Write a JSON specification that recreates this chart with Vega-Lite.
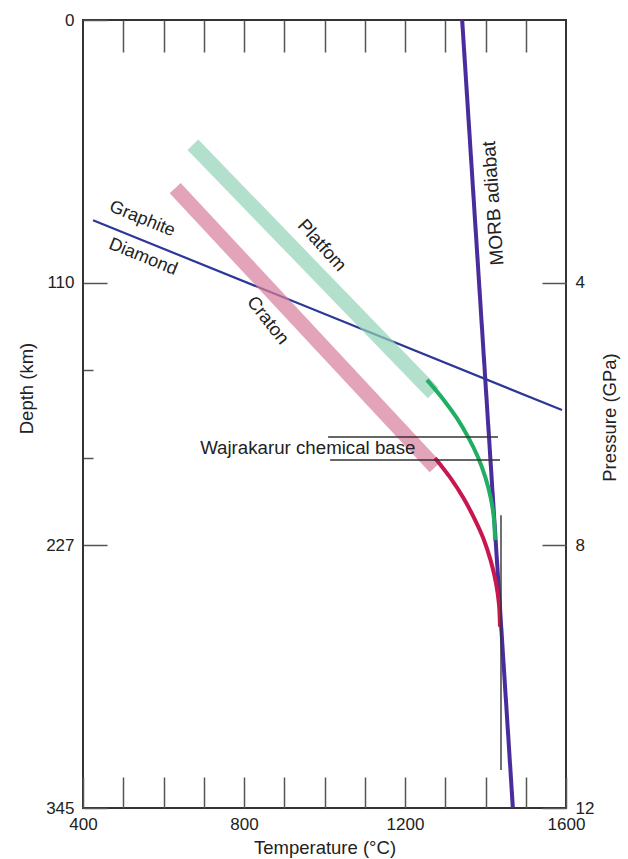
{
  "$schema": "https://vega.github.io/schema/vega-lite/v6.json",
  "width": 483,
  "height": 788,
  "autosize": {"type": "none"},
  "padding": {"left": 83, "top": 20, "right": 62, "bottom": 51},
  "config": {
    "view": {"stroke": "#333333", "strokeWidth": 2},
    "font": "Liberation Sans",
    "axis": {
      "labelFont": "Liberation Sans", "titleFont": "Liberation Sans",
      "labelFontSize": 17, "titleFontSize": 18.5, "titleFontWeight": "normal",
      "labelColor": "#222222", "titleColor": "#222222",
      "grid": false, "domain": false, "tickColor": "#555555", "tickWidth": 1.5,
      "labelOverlap": false, "labelBound": false, "labelFlush": false
    }
  },
  "datasets": {
    "curves": [
      {"series": "Graphite-Diamond", "i": 1, "T": 425, "P": 3.05},
      {"series": "Graphite-Diamond", "i": 2, "T": 1590, "P": 5.94},
      {"series": "Platform band", "i": 1, "T": 673, "P": 1.90},
      {"series": "Platform band", "i": 2, "T": 1270, "P": 5.68},
      {"series": "Craton band", "i": 1, "T": 629, "P": 2.56},
      {"series": "Craton band", "i": 2, "T": 1275, "P": 6.81},
      {"series": "Platform geotherm", "i": 1, "T": 1254.7, "P": 5.48},
      {"series": "Platform geotherm", "i": 2, "T": 1294.3, "P": 5.77},
      {"series": "Platform geotherm", "i": 3, "T": 1328.6, "P": 6.06},
      {"series": "Platform geotherm", "i": 4, "T": 1357.6, "P": 6.36},
      {"series": "Platform geotherm", "i": 5, "T": 1381.4, "P": 6.66},
      {"series": "Platform geotherm", "i": 6, "T": 1399.9, "P": 6.97},
      {"series": "Platform geotherm", "i": 7, "T": 1413.1, "P": 7.28},
      {"series": "Platform geotherm", "i": 8, "T": 1421.0, "P": 7.60},
      {"series": "Platform geotherm", "i": 9, "T": 1423.6, "P": 7.92},
      {"series": "Craton geotherm", "i": 1, "T": 1274.5, "P": 6.67},
      {"series": "Craton geotherm", "i": 2, "T": 1312.4, "P": 6.97},
      {"series": "Craton geotherm", "i": 3, "T": 1345.2, "P": 7.28},
      {"series": "Craton geotherm", "i": 4, "T": 1373.0, "P": 7.60},
      {"series": "Craton geotherm", "i": 5, "T": 1395.7, "P": 7.91},
      {"series": "Craton geotherm", "i": 6, "T": 1413.3, "P": 8.24},
      {"series": "Craton geotherm", "i": 7, "T": 1426.0, "P": 8.57},
      {"series": "Craton geotherm", "i": 8, "T": 1433.5, "P": 8.90},
      {"series": "Craton geotherm", "i": 9, "T": 1436.0, "P": 9.24},
      {"series": "Wajrakarur top", "i": 1, "T": 1009, "P": 6.35},
      {"series": "Wajrakarur top", "i": 2, "T": 1431, "P": 6.35},
      {"series": "Wajrakarur base", "i": 1, "T": 1014, "P": 6.70},
      {"series": "Wajrakarur base", "i": 2, "T": 1436, "P": 6.70},
      {"series": "Xenolith range", "i": 1, "T": 1438.5, "P": 7.54},
      {"series": "Xenolith range", "i": 2, "T": 1438.5, "P": 11.42}
    ],
    "adiabat": [
      {"series": "MORB adiabat", "i": 1, "T": 1342, "P": 0},
      {"series": "MORB adiabat", "i": 2, "T": 1468, "P": 12}
    ],
    "labels": [
      {"label": "Graphite", "T": 547, "P": 3.03},
      {"label": "Diamond", "T": 549, "P": 3.61},
      {"label": "Platfom", "T": 994, "P": 3.43},
      {"label": "Craton", "T": 860, "P": 4.57},
      {"label": "MORB adiabat", "T": 1419, "P": 2.79},
      {"label": "Wajrakarur chemical base", "T": 691, "P": 6.52}
    ]
  },
  "layer": [
    {
      "data": {"name": "adiabat"},
      "mark": {"type": "line", "color": "#4a2d9c", "strokeWidth": 4},
      "encoding": {
        "x": {"field": "T", "type": "quantitative", "scale": {"domain": [400, 1600], "nice": false},
          "axis": {"orient": "top", "values": [500, 600, 700, 800, 900, 1000, 1100, 1200, 1300, 1400, 1500], "labels": false, "tickSize": -32, "title": null}},
        "y": {"field": "P", "type": "quantitative", "scale": {"domain": [0, 12], "reverse": true, "nice": false},
          "axis": {"orient": "right", "values": [4, 8, 12], "format": "d", "tickSize": -24, "labelPadding": 33,
            "title": "Pressure (GPa)", "titleAngle": 270, "titleBaseline": "bottom", "titleX": 53, "titleY": 397}},
        "order": {"field": "i"}
      }
    },
    {
      "encoding": {
        "x": {"field": "T", "type": "quantitative", "scale": {"domain": [400, 1600], "nice": false},
          "axis": {"orient": "bottom", "values": [400, 500, 600, 700, 800, 900, 1000, 1100, 1200, 1300, 1400, 1500, 1600], "format": "d",
            "labelExpr": "datum.value % 400 == 0 ? datum.label : ''", "tickSize": -31, "labelPadding": 39,
            "title": "Temperature (°C)", "titleBaseline": "alphabetic", "titleY": 45}},
        "y": {"field": "P", "type": "quantitative", "scale": {"domain": [0, 12], "reverse": true, "nice": false},
          "axis": {"orient": "left", "values": [0, 4, 5.33, 6.67, 8, 12],
            "labelExpr": "datum.value == 0 ? '0' : datum.value == 4 ? '110' : datum.value == 8 ? '227' : datum.value == 12 ? '345' : ''",
            "tickSize": {"condition": {"test": "datum.value == 5.33 || datum.value == 6.67", "value": -10}, "value": -24},
            "labelPadding": 33,
            "title": "Depth (km)", "titleAngle": 270, "titleBaseline": "bottom", "titleX": -47, "titleY": 368}}
      },
      "layer": [
        {
          "data": {"name": "curves"},
          "transform": [{"filter": "datum.series == 'Graphite-Diamond'"}],
          "mark": {"type": "line", "color": "#2b3897", "strokeWidth": 2.2},
          "encoding": {"order": {"field": "i"}}
        },
        {
          "data": {"name": "curves"},
          "transform": [{"filter": "datum.series == 'Platform band'"}],
          "mark": {"type": "line", "color": "#91d3b6", "opacity": 0.7, "strokeWidth": 15, "strokeCap": "butt"},
          "encoding": {"order": {"field": "i"}}
        },
        {
          "data": {"name": "curves"},
          "transform": [{"filter": "datum.series == 'Craton band'"}],
          "mark": {"type": "line", "color": "#d77d9b", "opacity": 0.7, "strokeWidth": 15, "strokeCap": "butt"},
          "encoding": {"order": {"field": "i"}}
        },
        {
          "data": {"name": "curves"},
          "transform": [{"filter": "datum.series == 'Platform geotherm'"}],
          "mark": {"type": "line", "color": "#1fae62", "strokeWidth": 4, "interpolate": "cardinal"},
          "encoding": {"order": {"field": "i"}}
        },
        {
          "data": {"name": "curves"},
          "transform": [{"filter": "datum.series == 'Craton geotherm'"}],
          "mark": {"type": "line", "color": "#c8174e", "strokeWidth": 4, "interpolate": "cardinal"},
          "encoding": {"order": {"field": "i"}}
        },
        {
          "data": {"name": "curves"},
          "transform": [{"filter": "datum.series == 'Wajrakarur top' || datum.series == 'Wajrakarur base' || datum.series == 'Xenolith range'"}],
          "mark": {"type": "line", "color": "#333333", "strokeWidth": 1.4},
          "encoding": {"detail": {"field": "series"}, "order": {"field": "i"}}
        },
        {
          "data": {"name": "labels"},
          "transform": [{"filter": "datum.label == 'Graphite' || datum.label == 'Diamond'"}],
          "mark": {"type": "text", "angle": 22, "fontSize": 18, "color": "#222222", "align": "center", "baseline": "middle"},
          "encoding": {"text": {"field": "label"}}
        },
        {
          "data": {"name": "labels"},
          "transform": [{"filter": "datum.label == 'Platfom'"}],
          "mark": {"type": "text", "angle": 48, "fontSize": 18.5, "color": "#222222", "align": "center", "baseline": "middle"},
          "encoding": {"text": {"field": "label"}}
        },
        {
          "data": {"name": "labels"},
          "transform": [{"filter": "datum.label == 'Craton'"}],
          "mark": {"type": "text", "angle": 52, "fontSize": 18.5, "color": "#222222", "align": "center", "baseline": "middle"},
          "encoding": {"text": {"field": "label"}}
        },
        {
          "data": {"name": "labels"},
          "transform": [{"filter": "datum.label == 'MORB adiabat'"}],
          "mark": {"type": "text", "angle": 266, "fontSize": 19, "color": "#222222", "align": "center", "baseline": "middle"},
          "encoding": {"text": {"field": "label"}}
        },
        {
          "data": {"name": "labels"},
          "transform": [{"filter": "datum.label == 'Wajrakarur chemical base'"}],
          "mark": {"type": "text", "angle": 0, "fontSize": 18.7, "color": "#222222", "align": "left", "baseline": "middle"},
          "encoding": {"text": {"field": "label"}}
        }
      ]
    }
  ],
  "resolve": {"scale": {"x": "independent", "y": "independent"}}
}
